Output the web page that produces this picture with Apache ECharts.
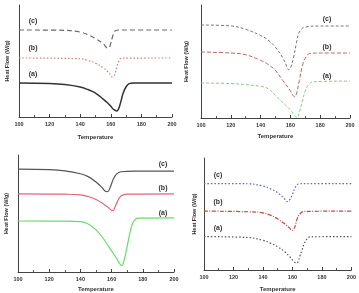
<!DOCTYPE html>
<html>
<head>
	<meta charset="utf-8">
	<title>DSC curves</title>
	<script src="https://cdn.jsdelivr.net/npm/echarts@6/dist/echarts.min.js"></script>
	<style>
		html, body { margin: 0; padding: 0; background: #fff; }
		#main { width: 359px; height: 293px; }
	</style>
</head>
<body>
	<div id="main"></div>
	<script type="text/javascript">
		// temperature ticks shared by all four panels
		var tempTicks = [100, 120, 140, 160, 180, 200];

		// panel 1 (top left) - heat flow, arbitrary offset units
		var p1c = [[100,77.7],[130,77.4],[140,75.8],[145,73.5],[150,70],[155,65.5],[158,61.6],[159,62],[160,66],[161,71],[162,75],[163,77],[166,77.7],[200,77.7]];
		var p1b = [[100,52.7],[140,52],[145,50.5],[150,48],[155,44],[158,40.5],[160,37.5],[161,35.7],[162,36.5],[163,40],[164,45],[165,49],[167,52.5],[200,52.7]];
		var p1a = [[100,30.4],[120,30],[130,29],[140,26.8],[145,24.5],[150,21.4],[155,16],[158,12.5],[160,9.5],[162,6.5],[164,5.4],[165,7],[166,11],[167,16],[168,21],[170,27],[172,29.8],[175,30.4],[200,30.4]];

		// panel 2 (top right)
		var p2c = [[100,82.3],[120,81.5],[130,78.5],[140,73],[145,69],[150,62.5],[155,53],[158,44.5],[159,42.5],[160,44],[162,53],[164,66],[166,76],[170,80.5],[180,81.4],[200,81.4]];
		var p2b = [[100,58.4],[120,57.5],[130,56],[140,51],[145,47.5],[150,42],[155,33],[160,24],[162,19.5],[163,18.6],[164,21],[166,33],[168,46],[170,53],[173,57],[180,57.5],[200,57.5]];
		var p2a = [[100,31],[120,30.5],[130,29.5],[140,28],[145,26],[150,20],[155,13.5],[160,7],[163,2],[164.5,0.5],[166,5],[168,15],[170,24],[172,29],[175,32],[200,32.7]];

		// panel 3 (bottom left)
		var p3c = [[100,88],[120,87.5],[130,86.5],[140,84],[145,81.5],[150,77],[154,72],[156,69],[157.5,68.7],[159,72],[161,79],[163,83.5],[166,85.7],[175,86.3],[200,86.3]];
		var p3b = [[100,66.7],[130,66.5],[140,66],[145,64.5],[150,62],[155,58],[158,55],[160,52.6],[161,52.4],[162,55],[164,61],[166,65],[170,66.5],[200,66.7]];
		var p3a = [[100,43.6],[130,43.5],[140,43],[145,41],[150,36],[155,28],[160,18],[163,12],[165,7.5],[166.5,5.4],[168,10],[170,22],[172,35],[174,43],[177,46],[200,46.2]];

		// panel 4 (bottom right)
		var p4c = [[100,77.2],[130,77],[140,75],[145,72.5],[150,69],[154,64.5],[156.5,61.1],[158,62.5],[160,67.5],[162,74],[164,76.8],[170,77.2],[200,77.2]];
		var p4b = [[100,52.6],[130,52],[140,51],[145,49],[150,45.5],[155,41],[158,37.5],[160,35.4],[161,36.5],[162,40],[163,45],[165,50],[168,52.3],[200,52.6]];
		var p4a = [[100,29.8],[130,29],[140,26.5],[145,24],[150,20.8],[155,16],[158,12],[161,7.5],[163,6.1],[164,8],[165,12],[166.5,17.8],[168,23.5],[170,28],[172,29.6],[200,29.8]];

		var grids = [
			{ left: 19, top: 5, width: 153, height: 112, xGap: 17, yGap: 9 },
			{ left: 201, top: 5, width: 149, height: 113, xGap: 15, yGap: 12 },
			{ left: 18, top: 155, width: 156, height: 117, xGap: 14, yGap: 9 },
			{ left: 204, top: 158, width: 152, height: 114, xGap: 16, yGap: 7 }
		];

		var xAxes = [], yAxes = [];
		grids.forEach(function (g, i) {
			xAxes.push({
				gridIndex: i, type: 'value', min: 100, max: 200, interval: 20,
				name: 'Temperature', nameLocation: 'middle', nameGap: g.xGap,
				nameTextStyle: { fontSize: 6, fontWeight: 'bold', color: '#333', fontFamily: 'Liberation Sans' },
				axisLine: { lineStyle: { color: '#444', width: 1 } },
				axisTick: { inside: true, length: 3, lineStyle: { color: '#444' } },
				minorTick: { show: true, splitNumber: 2, length: 2, lineStyle: { color: '#555' } },
				axisLabel: {
					fontSize: 5.5, fontWeight: 'bold', color: '#333', margin: 4, fontFamily: 'Liberation Sans',
					formatter: function (v) { return tempTicks.indexOf(v) >= 0 ? String(v) : ''; }
				},
				splitLine: { show: false }
			});
			yAxes.push({
				gridIndex: i, type: 'value', min: 0, max: 100,
				name: 'Heat Flow (W/g)', nameLocation: 'middle', nameRotate: 90, nameGap: g.yGap,
				nameTextStyle: { fontSize: 5.5, fontWeight: 'bold', color: '#333', fontFamily: 'Liberation Sans' },
				axisLine: { show: true, lineStyle: { color: '#444', width: 1 } },
				axisTick: { show: false },
				axisLabel: { show: false },
				splitLine: { show: false }
			});
		});

		function line(idx, data, color, type, width) {
			return {
				type: 'line', xAxisIndex: idx, yAxisIndex: idx, data: data,
				smooth: 0.4, showSymbol: false, animation: false,
				lineStyle: { color: color, type: type, width: width || 1 }
			};
		}

		var series = [
			line(0, p1c, '#666a72', [5, 3], 1.2),
			line(0, p1b, '#d87a7a', [1.5, 2], 1.2),
			line(0, p1a, '#333333', 'solid', 1.5),
			line(1, p2c, '#77777f', [3, 2], 1),
			line(1, p2b, '#b86a6a', [4, 2], 1),
			line(1, p2a, '#86c986', [3, 2], 1),
			line(2, p3c, '#555555', 'solid', 1.2),
			line(2, p3b, '#e0667a', 'solid', 1.2),
			line(2, p3a, '#6adb6a', 'solid', 1.2),
			line(3, p4c, '#5a66c0', [1.5, 2], 1.2),
			line(3, p4b, '#c84848', [4, 1.5, 1, 1.5], 1.2),
			line(3, p4a, '#555555', [1.5, 2], 1.2)
		];

		// (a)/(b)/(c) curve labels
		var labelPos = [
			[33, 21, '(c)'], [33, 48, '(b)'], [33, 74, '(a)'],
			[327, 19, '(c)'], [327, 47, '(b)'], [327, 76, '(a)'],
			[163, 164, '(c)'], [163, 188, '(b)'], [163, 213, '(a)'],
			[218, 175, '(c)'], [218, 202, '(b)'], [218, 228, '(a)']
		];
		var graphic = labelPos.map(function (p) {
			return {
				type: 'text', x: p[0], y: p[1],
				style: { text: p[2], fontSize: 7, fontWeight: 'bold', fill: '#333', align: 'center', verticalAlign: 'middle', fontFamily: 'Liberation Sans' }
			};
		});

		var myChart = echarts.init(document.getElementById('main'));
		myChart.setOption({
			backgroundColor: '#fff',
			animation: false,
			grid: grids.map(function (g) { return { left: g.left, top: g.top, width: g.width, height: g.height }; }),
			xAxis: xAxes,
			yAxis: yAxes,
			series: series,
			graphic: graphic
		});
	</script>
</body>
</html>
